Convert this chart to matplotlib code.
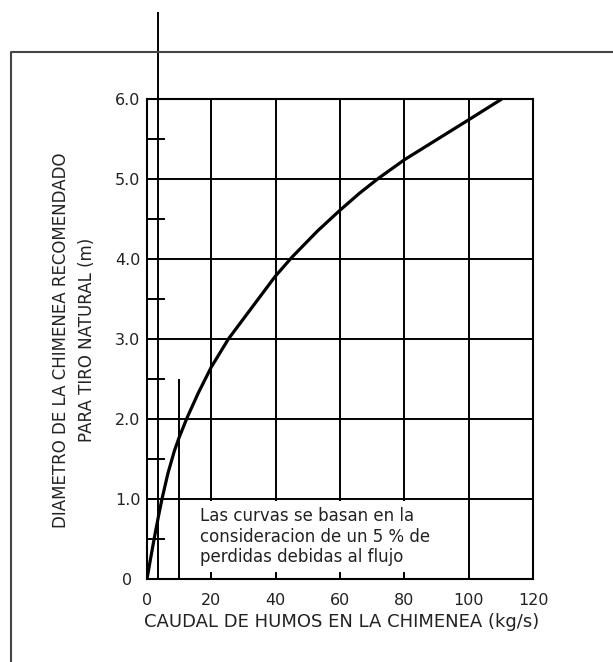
import matplotlib
matplotlib.use("Agg")
import matplotlib.pyplot as plt
from matplotlib.ticker import MultipleLocator
from matplotlib.lines import Line2D

# ---- data ----
caudal = [0, 1.0, 2.3, 3.5, 4.6, 6.5, 8.5, 10.0, 12.5, 16.0, 20.0, 25.3,
          30.5, 39.8, 45.0, 53.0, 60.0, 66.0, 72.0, 80.0, 90.0, 100.0, 110.3]
diametro = [0, 0.23, 0.52, 0.77, 0.99, 1.32, 1.60, 1.77, 2.02, 2.33, 2.65, 3.0,
            3.28, 3.78, 4.02, 4.35, 4.61, 4.82, 5.01, 5.24, 5.49, 5.74, 6.0]

x_ticks = [0, 20, 40, 60, 80, 100, 120]
x_ticklabels = ["0", "20", "40", "60", "80", "100", "120"]
y_ticks = [0, 1, 2, 3, 4, 5, 6]
y_ticklabels = ["0", "1.0", "2.0", "3.0", "4.0", "5.0", "6.0"]

ref_lines_q = [3.5, 10.0]
ref_lines_top = [7.09, 2.5]

xlabel = "CAUDAL DE HUMOS EN LA CHIMENEA (kg/s)"
ylabel = "DIAMETRO DE LA CHIMENEA RECOMENDADO\nPARA TIRO NATURAL (m)"
note = "Las curvas se basan en la\nconsideracion de un 5 % de\nperdidas debidas al flujo"

plt.rcParams['font.family'] = ['DejaVu Sans']

W, H = 613, 662
fig = plt.figure(figsize=(W / 100, H / 100), dpi=100)
fig.patch.set_facecolor("white")

# outer drawing frame (extends past right and bottom edges)
fig.add_artist(Line2D([11 / W, 11 / W, 1.0], [0.0, 1 - 52 / H, 1 - 52 / H],
                      transform=fig.transFigure, color="#444444", lw=1.5))

ax = fig.add_axes([147 / W, 1 - 579 / H, (533 - 147) / W, (579 - 99) / H])
ax.set_xlim(0, 120)
ax.set_ylim(0, 6)

ax.set_xticks(x_ticks)
ax.set_xticklabels(x_ticklabels)
ax.set_yticks(y_ticks)
ax.set_yticklabels(y_ticklabels, ha="center")
ax.yaxis.set_minor_locator(MultipleLocator(0.5))

ax.tick_params(which="major", length=0, labelsize=11.5, colors="#222222")
ax.tick_params(axis="x", which="major", pad=10)
ax.tick_params(axis="y", which="major", pad=14)
ax.tick_params(axis="y", which="minor", direction="in", length=13, width=1.4, color="black")
ax.tick_params(axis="x", which="minor", length=0)

ax.grid(True, which="major", color="black", lw=1.4)
ax.set_axisbelow(True)
for s in ax.spines.values():
    s.set_linewidth(1.5)
    s.set_color("black")

ax.plot(caudal, diametro, color="black", lw=2.3, zorder=4,
        solid_capstyle="round", solid_joinstyle="round")

ax.vlines(ref_lines_q, 0, ref_lines_top, colors="black", lw=1.4, clip_on=False, zorder=3)

ax.text(16.5, 0.53, note, ha="left", va="center", fontsize=12, linespacing=1.2,
        color="#222222", zorder=5,
        bbox=dict(facecolor="white", edgecolor="none", pad=4))

ax.set_xlabel(xlabel, fontsize=13, va="center", color="#222222")
ax.xaxis.set_label_coords(0.505, -43 / 480)
ax.set_ylabel(ylabel, fontsize=12, va="center", ha="center", multialignment="center",
              linespacing=1.6, color="#222222")
ax.yaxis.set_label_coords(-73 / 386, 0.498)

fig.savefig("out.png", dpi=100, facecolor="white")
